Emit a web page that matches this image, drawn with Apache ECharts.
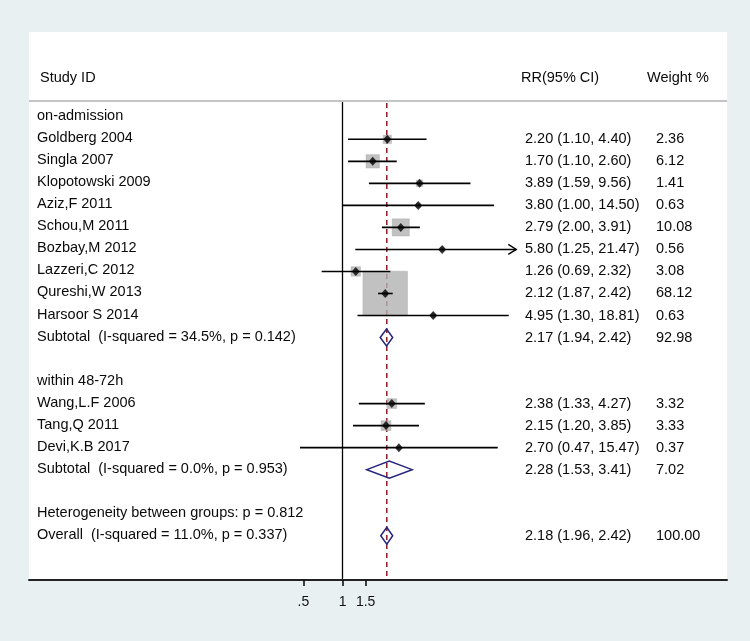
<!DOCTYPE html>
<html><head><meta charset="utf-8">
<script src="https://cdn.jsdelivr.net/npm/echarts@6/dist/echarts.min.js"></script>
<style>html,body{margin:0;padding:0;background:#e9f0f2}#c{width:750px;height:641px}</style>
</head><body><div id="c"></div>
<script>
// ---------- data ----------
const studyNames = ['Goldberg 2004','Singla 2007','Klopotowski 2009','Aziz,F 2011','Schou,M 2011','Bozbay,M 2012','Lazzeri,C 2012','Qureshi,W 2013','Harsoor S 2014','Wang,L.F 2006','Tang,Q 2011','Devi,K.B 2017'];
const studyRR     = [2.20, 1.70, 3.89, 3.80, 2.79, 5.80, 1.26, 2.12, 4.95, 2.38, 2.15, 2.70];
const studyLo     = [1.10, 1.10, 1.59, 1.00, 2.00, 1.25, 0.69, 1.87, 1.30, 1.33, 1.20, 0.47];
const studyHi     = [4.40, 2.60, 9.56, 14.50, 3.91, 21.47, 2.32, 2.42, 18.81, 4.27, 3.85, 15.47];
const studyWeight = [2.36, 6.12, 1.41, 0.63, 10.08, 0.56, 3.08, 68.12, 0.63, 3.32, 3.33, 0.37];
const studyRows   = [1, 2, 3, 4, 5, 6, 7, 8, 9, 13, 14, 15];

const groupHeaders    = ['on-admission', 'within 48-72h', 'Heterogeneity between groups: p = 0.812'];
const groupHeaderRows = [0, 12, 18];

const pooledNames  = ['Subtotal  (I-squared = 34.5%, p = 0.142)', 'Subtotal  (I-squared = 0.0%, p = 0.953)', 'Overall  (I-squared = 11.0%, p = 0.337)'];
const pooledRR     = [2.17, 2.28, 2.18];
const pooledLo     = [1.94, 1.53, 1.96];
const pooledHi     = [2.42, 3.41, 2.42];
const pooledWeight = [92.98, 7.02, 100.00];
const pooledRows   = [10, 16, 19];

const overallRR   = 2.18;
const tickValues  = [0.5, 1, 1.5];
const tickLabels  = ['.5', '1', '1.5'];
const columnHeaders = ['Study ID', 'RR(95% CI)', 'Weight %'];
const arrowLimit  = 20;   // CIs beyond this get an arrow

// ---------- helpers ----------
const ln = Math.log;
const f2 = v => v.toFixed(2);
const FONT = "'Liberation Sans', Arial, sans-serif";
const TXT = '#0a0a0a';
const FS = '14.5px';

const textRows = [];
groupHeaders.forEach((n, i) => textRows.push({row: groupHeaderRows[i], name: n, rr: '', w: ''}));
studyNames.forEach((n, i) => textRows.push({row: studyRows[i], name: n,
  rr: `${f2(studyRR[i])} (${f2(studyLo[i])}, ${f2(studyHi[i])})`, w: f2(studyWeight[i])}));
pooledNames.forEach((n, i) => textRows.push({row: pooledRows[i], name: n,
  rr: `${f2(pooledRR[i])} (${f2(pooledLo[i])}, ${f2(pooledHi[i])})`, w: f2(pooledWeight[i])}));

const chart = echarts.init(document.getElementById('c'));
const tickLn = tickValues.map(ln);

chart.setOption({
  backgroundColor: '#e9f0f2',
  animation: false,
  grid: {left: 29, right: 23, top: 101, bottom: 61, show: true, backgroundColor: '#fff', borderWidth: 0},
  graphic: [
    {type: 'rect', shape: {x: 29, y: 32, width: 698, height: 70}, style: {fill: '#fff'}, z: 0},
    {type: 'line', shape: {x1: 29, y1: 101, x2: 727, y2: 101}, style: {stroke: '#c4c4c4', lineWidth: 2}, z: 1},
    {type: 'text', x: 40, y: 78, style: {text: columnHeaders[0], fill: TXT, font: `${FS} ${FONT}`, verticalAlign: 'middle'}, z: 1},
    {type: 'text', x: 521, y: 78, style: {text: columnHeaders[1], fill: TXT, font: `${FS} ${FONT}`, verticalAlign: 'middle'}, z: 1},
    {type: 'text', x: 647, y: 78, style: {text: columnHeaders[2], fill: TXT, font: `${FS} ${FONT}`, verticalAlign: 'middle'}, z: 1}
  ],
  xAxis: {
    type: 'value', min: -5.542, max: 6.790, position: 'bottom',
    axisLine: {onZero: false, lineStyle: {color: '#222', width: 2}},
    axisTick: {show: true, customValues: tickLn, length: 6, lineStyle: {color: '#111', width: 1.6}},
    axisLabel: {customValues: tickLn, margin: 15, color: '#111', fontSize: 14, fontFamily: FONT,
      formatter: v => { const i = tickLn.findIndex(t => Math.abs(t - v) < 1e-6); return i >= 0 ? tickLabels[i] : ''; }},
    splitLine: {show: false}
  },
  yAxis: {
    type: 'value', inverse: true, min: -0.74, max: 21.01,
    axisLine: {show: true, onZero: true, lineStyle: {color: '#000', width: 1.3}},
    axisTick: {show: false}, axisLabel: {show: false}, splitLine: {show: false}
  },
  series: [
    { // overall dashed reference line
      type: 'custom', z: 1, silent: true,
      data: [[ln(overallRR), 0]],
      encode: {x: 0, y: 1},
      renderItem: (params, api) => {
        const cs = params.coordSys;
        const x = api.coord([api.value(0), 0])[0];
        return {type: 'line', shape: {x1: x, y1: cs.y + 2, x2: x, y2: cs.y + cs.height},
          style: {stroke: '#8e1b24', lineWidth: 1.5, lineDash: [5, 4]}};
      }
    },
    { // weight squares
      type: 'scatter', z: 2, silent: true, symbol: 'rect',
      data: studyRR.map((v, i) => [ln(v), studyRows[i], studyWeight[i]]),
      symbolSize: val => 5.4 * Math.sqrt(val[2]),
      itemStyle: {color: '#b2b2b2', borderColor: '#a6a6a6', borderWidth: 0.5}
    },
    { // CI lines
      type: 'custom', z: 3, silent: true,
      data: studyRR.map((v, i) => [ln(studyLo[i]), ln(studyHi[i]), studyRows[i], studyHi[i] > arrowLimit ? 1 : 0]),
      encode: {x: [0, 1], y: 2},
      renderItem: (params, api) => {
        const a = api.coord([api.value(0), api.value(2)]);
        const b = api.coord([api.value(1), api.value(2)]);
        const children = [{type: 'line', shape: {x1: a[0], y1: a[1], x2: b[0], y2: b[1]}, style: {stroke: '#000', lineWidth: 1.6}}];
        if (api.value(3)) {
          children.push({type: 'polyline', shape: {points: [[b[0] - 8, b[1] - 5], [b[0], b[1]], [b[0] - 8, b[1] + 5]]},
            style: {stroke: '#000', lineWidth: 1.4, fill: 'none'}});
        }
        return {type: 'group', children};
      }
    },
    { // point estimates
      type: 'scatter', z: 4, silent: true, symbol: 'diamond', symbolSize: [8, 9],
      data: studyRR.map((v, i) => [ln(v), studyRows[i]]),
      itemStyle: {color: '#000'}
    },
    { // pooled diamonds
      type: 'custom', z: 4, silent: true,
      data: pooledRR.map((v, i) => [ln(pooledLo[i]), ln(v), ln(pooledHi[i]), pooledRows[i]]),
      encode: {x: [0, 2], y: 3},
      renderItem: (params, api) => {
        const r = api.value(3);
        const l = api.coord([api.value(0), r]);
        const m = api.coord([api.value(1), r]);
        const h = api.coord([api.value(2), r]);
        const hh = 8.5;
        return {type: 'polygon', shape: {points: [[l[0], l[1]], [m[0], m[1] - hh], [h[0], h[1]], [m[0], m[1] + hh]]},
          style: {stroke: '#25257f', lineWidth: 1.5, fill: 'none'}};
      }
    },
    { // text columns
      type: 'custom', z: 5, silent: true, clip: false,
      data: textRows.map((t, i) => [0, t.row, i]),
      encode: {x: 0, y: 1},
      renderItem: (params, api) => {
        const t = textRows[params.dataIndex];
        const y = api.coord([0, api.value(1)])[1];
        return {type: 'group', children: [
          {type: 'text', x: 37, y: y - 1, style: {text: t.name, fill: TXT, font: `${FS} ${FONT}`, verticalAlign: 'middle'}},
          {type: 'text', x: 525, y: y, style: {text: t.rr, fill: TXT, font: `${FS} ${FONT}`, verticalAlign: 'middle'}},
          {type: 'text', x: 656, y: y, style: {text: t.w, fill: TXT, font: `${FS} ${FONT}`, verticalAlign: 'middle'}}
        ]};
      }
    }
  ]
});
</script></body></html>
